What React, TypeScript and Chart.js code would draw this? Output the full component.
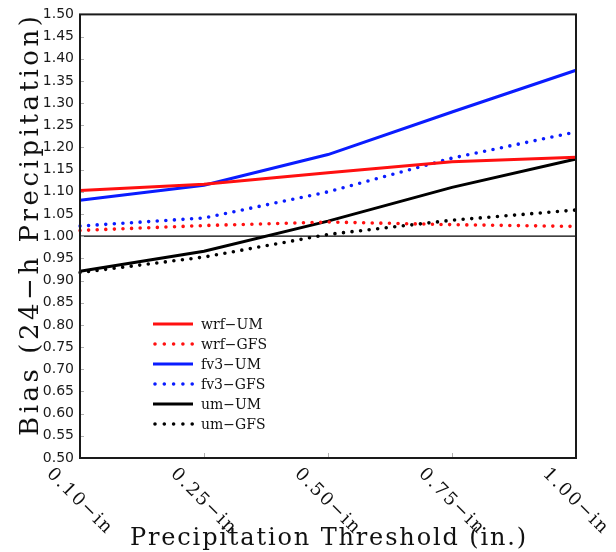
import { useEffect, useRef } from "react";
import { Chart, registerables } from "chart.js";
Chart.register(...registerables);

const thresholds = ["0.10−in", "0.25−in", "0.50−in", "0.75−in", "1.00−in"];
const seriesNames = ["wrf−UM", "wrf−GFS", "fv3−UM", "fv3−GFS", "um−UM", "um−GFS"];
const wrfUM = [1.103, 1.117, 1.143, 1.168, 1.178];
const wrfGFS = [1.013, 1.024, 1.032, 1.026, 1.022];
const fv3UM = [1.081, 1.115, 1.184, 1.28, 1.374];
const fv3GFS = [1.023, 1.041, 1.1, 1.176, 1.235];
const umUM = [0.921, 0.966, 1.034, 1.11, 1.174];
const umGFS = [0.918, 0.953, 1.004, 1.036, 1.059];
const referenceLine = [1, 1, 1, 1, 1];
const yMin = 0.5;
const yMax = 1.5;
const yStep = 0.05;
const xTitle = "Precipitation Threshold (in.)";
const yTitle = "Bias (24−h Precipitation)";

const RED = "#ff1010";
const BLUE = "#0a1cff";
const BLACK = "#000000";
const SERIF = "'DejaVu Serif', serif";

function fitText(ctx: CanvasRenderingContext2D, text: string, font: string, target: number) {
  ctx.font = font;
  (ctx as any).letterSpacing = "0px";
  const w = ctx.measureText(text).width;
  const sp = Math.max(0, (target - w) / Math.max(1, text.length - 1));
  (ctx as any).letterSpacing = `${sp.toFixed(2)}px`;
  return sp;
}

const overlayPlugin = {
  id: "overlay",
  afterDatasetsDraw(chart: any) {
    const { ctx, chartArea, scales } = chart;
    const xs = scales.x;
    const ys = scales.y;
    ctx.save();
    // inward tick marks
    ctx.strokeStyle = "#b0b0b0";
    ctx.lineWidth = 1;
    ys.ticks.forEach((t: any, i: number) => {
      const y = Math.round(ys.getPixelForTick(i)) + 0.5;
      ctx.beginPath();
      ctx.moveTo(chartArea.left, y);
      ctx.lineTo(chartArea.left + 4, y);
      ctx.stroke();
    });
    xs.ticks.forEach((t: any, i: number) => {
      const x = Math.round(xs.getPixelForTick(i)) + 0.5;
      ctx.beginPath();
      ctx.moveTo(x, chartArea.bottom);
      ctx.lineTo(x, chartArea.bottom - 5);
      ctx.stroke();
    });
    // frame
    ctx.strokeStyle = "#1a1a1a";
    ctx.lineWidth = 2;
    ctx.strokeRect(chartArea.left, chartArea.top, chartArea.right - chartArea.left, chartArea.bottom - chartArea.top);

    // x tick labels, rotated
    ctx.fillStyle = "#111";
    xs.ticks.forEach((t: any, i: number) => {
      const x = xs.getPixelForTick(i);
      const lbl = thresholds[i];
      ctx.save();
      const sp = fitText(ctx, lbl, `18px ${SERIF}`, 84);
      ctx.translate(x - 1, chartArea.bottom + 43);
      ctx.rotate(Math.PI / 4);
      ctx.textAlign = "center";
      ctx.textBaseline = "middle";
      ctx.fillText(lbl, sp / 2, 0);
      ctx.restore();
    });

    // x title
    ctx.save();
    const sx = fitText(ctx, xTitle, `24px ${SERIF}`, 396);
    ctx.textAlign = "center";
    ctx.textBaseline = "alphabetic";
    ctx.fillText(xTitle, (chartArea.left + chartArea.right) / 2 + sx / 2, 545);
    ctx.restore();

    // y title
    ctx.save();
    const sy = fitText(ctx, yTitle, `26px ${SERIF}`, 420);
    ctx.translate(38, 226);
    ctx.rotate(-Math.PI / 2);
    ctx.textAlign = "center";
    ctx.textBaseline = "alphabetic";
    ctx.fillText(yTitle, sy / 2, 0);
    ctx.restore();

    // legend
    const ds = chart.data.datasets.filter((d: any) => !d.isReference);
    ds.forEach((d: any, i: number) => {
      const y = 324 + i * 20;
      const dashed = d.borderDash && d.borderDash.length;
      ctx.save();
      ctx.strokeStyle = d.borderColor;
      ctx.lineWidth = d.borderWidth;
      ctx.lineCap = dashed ? "round" : "butt";
      ctx.setLineDash(dashed ? [0, 9.3] : []);
      ctx.beginPath();
      ctx.moveTo(dashed ? 155 : 153, y);
      ctx.lineTo(193, y);
      ctx.stroke();
      ctx.restore();
      ctx.save();
      ctx.fillStyle = "#111";
      fitText(ctx, d.label, `14px ${SERIF}`, 60);
      ctx.textAlign = "left";
      ctx.textBaseline = "middle";
      ctx.fillText(d.label, 201, y + 1);
      ctx.restore();
    });
    ctx.restore();
  },
};

export default function App() {
  const ref = useRef<HTMLCanvasElement | null>(null);
  useEffect(() => {
    if (!ref.current) return;
    const dotted = [0, 8.6];
    const mk = (label: string, data: number[], color: string, dash: boolean) => ({
      label,
      data,
      borderColor: color,
      backgroundColor: color,
      borderWidth: dash ? 3.6 : 3,
      borderDash: dash ? dotted : [],
      borderCapStyle: dash ? "round" : "butt",
      pointRadius: 0,
      tension: 0,
      fill: false,
    });
    const chart = new Chart(ref.current, {
      type: "line",
      data: {
        labels: thresholds,
        datasets: [
          {
            label: "ref",
            isReference: true,
            data: referenceLine,
            borderColor: "#000",
            borderWidth: 1.2,
            pointRadius: 0,
            order: 10,
          } as any,
          mk(seriesNames[0], wrfUM, RED, false),
          mk(seriesNames[1], wrfGFS, RED, true),
          mk(seriesNames[2], fv3UM, BLUE, false),
          mk(seriesNames[3], fv3GFS, BLUE, true),
          mk(seriesNames[4], umUM, BLACK, false),
          mk(seriesNames[5], umGFS, BLACK, true),
        ] as any,
      },
      options: {
        animation: false,
        responsive: true,
        maintainAspectRatio: false,
        layout: { padding: { top: 12, right: 40, left: 0, bottom: 0 } },
        plugins: { legend: { display: false }, tooltip: { enabled: false } },
        scales: {
          x: {
            type: "category",
            offset: false,
            grid: { display: false, drawTicks: false },
            border: { display: false },
            ticks: { display: false },
            afterFit: (s: any) => {
              s.height = 94;
            },
          },
          y: {
            min: yMin,
            max: yMax,
            grid: { display: false, drawTicks: false },
            border: { display: false },
            ticks: {
              stepSize: yStep,
              padding: 6,
              color: "#1a1a1a",
              font: { family: "'DejaVu Sans', sans-serif", size: 14 },
              callback: (v: any) => Number(v).toFixed(2),
            },
            afterFit: (s: any) => {
              s.width = 80;
            },
          },
        },
      } as any,
      plugins: [overlayPlugin],
    });
    return () => chart.destroy();
  }, []);
  return (
    <div style={{ position: "absolute", left: 0, top: 0, width: 616, height: 552, background: "#fff" }}>
      <canvas ref={ref} />
    </div>
  );
}
